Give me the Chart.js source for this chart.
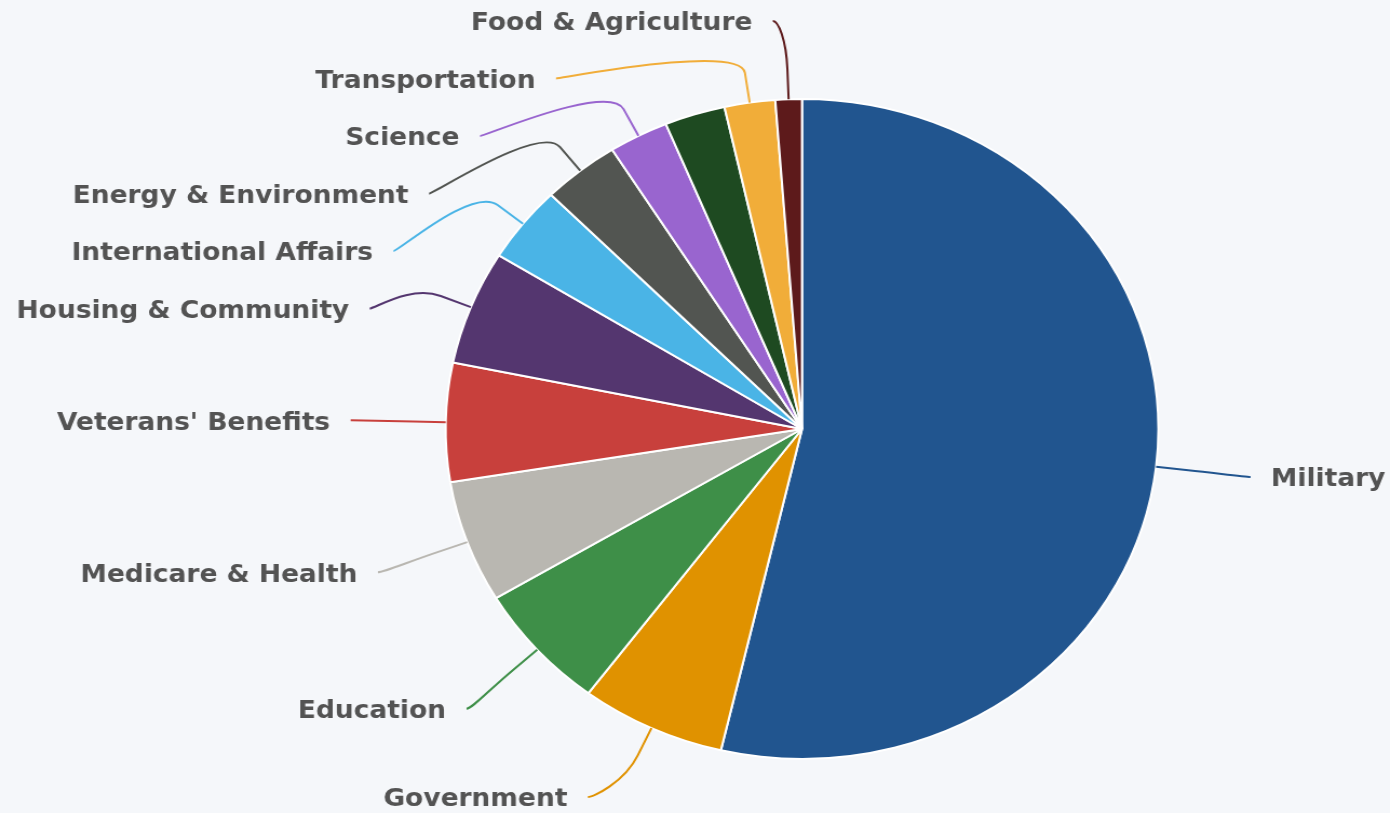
<!DOCTYPE html>
<html>
<head>
<meta charset="utf-8">
<script src="https://cdn.jsdelivr.net/npm/chart.js@4"></script>
<style>
html, body { margin: 0; padding: 0; background: #f5f7fa; overflow: hidden; }
#chartId { display: block; transform: scaleX(1.08); transform-origin: 0 0; }
</style>
</head>
<body>
<canvas id="chartId" width="1287" height="813"></canvas>
<script>
// discretionary spending, billions
var categories = ["Military", "Government", "Education", "Medicare & Health", "Veterans' Benefits",
    "Housing & Community", "International Affairs", "Energy & Environment", "Science",
    "Social Security, Unemployment & Labor", "Transportation", "Food & Agriculture"];
var spending = [596, 73, 69, 66.5, 64.5, 62, 41.6, 38.9, 30, 30.5, 25.5, 13.3];
var colors = ["#21558f", "#e09200", "#3e8f48", "#b9b7b1", "#c8403c", "#54366f",
    "#4ab4e6", "#525551", "#9965cf", "#1e4a21", "#f1ad39", "#5d1a1b"];
// labels that did not fit in the original
var hiddenLabels = ["Social Security, Unemployment & Labor"];

var labelRadius = 418;
var labelGap = 19;
var labelSpacing = 57.5;
var breakOffset = 30;

var pieLabels = {
    id: 'pieLabels',
    afterDatasetsDraw: function (chart) {
        var ctx = chart.ctx;
        var arcs = chart.getDatasetMeta(0).data;
        var top = 21, bottom = chart.height - 16;
        var items = [];
        arcs.forEach(function (arc, i) {
            if (hiddenLabels.indexOf(categories[i]) >= 0) return;
            var mid = (arc.startAngle + arc.endAngle) / 2;
            items.push({
                i: i, mid: mid, cx: arc.x, cy: arc.y, r: arc.outerRadius,
                left: Math.cos(mid) < 0,
                y: arc.y + labelRadius * Math.sin(mid)
            });
        });
        [true, false].forEach(function (side) {
            var list = items.filter(function (d) { return d.left === side; });
            list.sort(function (a, b) { return a.y - b.y; });
            var prev = -Infinity;
            list.forEach(function (d) {
                d.y = Math.max(d.y, prev + labelSpacing, top);
                prev = d.y;
            });
            var next = Infinity;
            for (var k = list.length - 1; k >= 0; k--) {
                list[k].y = Math.min(list[k].y, next - labelSpacing, bottom);
                next = list[k].y;
            }
        });

        ctx.save();
        ctx.font = 'bold 24.5px "DejaVu Sans", Verdana, sans-serif';
        ctx.textBaseline = 'middle';
        items.forEach(function (d) {
            var dy = d.y - d.cy;
            var dx;
            if (Math.abs(dy) / labelRadius > 0.95) {
                dx = (d.left ? -1 : 1) * Math.max(Math.abs(labelRadius * Math.cos(d.mid)), 27);
            } else {
                dx = (d.left ? -1 : 1) * Math.sqrt(labelRadius * labelRadius - dy * dy);
            }
            var lx = d.cx + dx;
            var touchX = d.cx + d.r * Math.cos(d.mid), touchY = d.cy + d.r * Math.sin(d.mid);
            var breakX = d.cx + (d.r + breakOffset) * Math.cos(d.mid);
            var breakY = d.cy + (d.r + breakOffset) * Math.sin(d.mid);

            ctx.beginPath();
            ctx.moveTo(lx, d.y);
            ctx.bezierCurveTo(lx + (d.left ? 5 : -5), d.y, 2 * breakX - touchX, 2 * breakY - touchY, breakX, breakY);
            ctx.lineTo(touchX, touchY);
            ctx.strokeStyle = colors[d.i];
            ctx.lineWidth = 2;
            ctx.stroke();

            ctx.fillStyle = '#535353';
            ctx.textAlign = d.left ? 'right' : 'left';
            ctx.fillText(categories[d.i], lx + (d.left ? -labelGap : labelGap), d.y + 3);
        });
        ctx.restore();
    }
};

var chrt = document.getElementById("chartId").getContext("2d");
var chartId = new Chart(chrt, {
    type: 'pie',
    data: {
        labels: categories,
        datasets: [{
            data: spending,
            backgroundColor: colors,
            borderColor: '#ffffff',
            borderWidth: 2,
        }],
    },
    options: {
        responsive: false,
        animation: false,
        radius: 330,
        layout: {
            padding: { left: 412.6, right: 214.4, top: 99, bottom: 54 }
        },
        plugins: {
            legend: { display: false },
            tooltip: { enabled: false },
        },
    },
    plugins: [pieLabels],
});
</script>
</body>
</html>
